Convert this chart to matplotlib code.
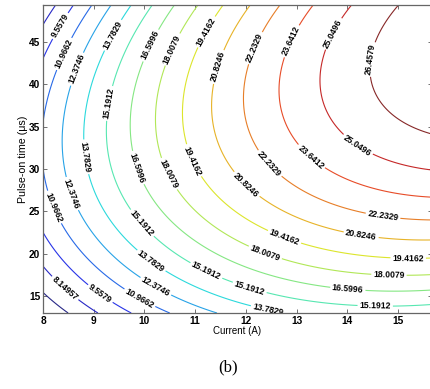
import numpy as np
import matplotlib
matplotlib.use("Agg")
import matplotlib.pyplot as plt

plt.rcParams['font.family'] = ['Liberation Sans', 'DejaVu Sans']
plt.rcParams['font.weight'] = 'bold'

# contour levels printed on the chart
levels = [6.74123, 8.14957, 9.5579, 10.9662, 12.3746, 13.7829, 15.1912, 16.5996,
          18.0079, 19.4162, 20.8246, 22.2329, 23.6412, 25.0496, 26.4579]

edge_level = [6.74123, 8.14957, 8.14957, 9.5579, 9.5579, 10.9662, 10.9662,
              6.74123, 8.14957, 9.5579, 10.9662, 12.3746,
              8.14957, 9.5579, 10.9662, 12.3746, 13.7829, 15.1912, 16.5996,
              18.0079, 19.4162, 20.8246, 22.2329, 23.6412, 25.0496, 26.4579,
              15.1912, 16.5996, 18.0079, 19.4162, 20.8246, 22.2329, 23.6412,
              25.0496, 26.4579,
              26.4579, 25.0496, 23.6412, 22.2329]
edge_current = [8, 8, 8, 8, 8, 8, 8,
                8.53, 9.12, 9.76, 10.50, 11.49,
                8.24, 8.57, 8.97, 9.32, 9.72, 10.15, 10.56,
                11.0, 11.53, 12.04, 12.67, 13.32, 14.05, 14.98,
                15.65, 15.65, 15.65, 15.65, 15.65, 15.65, 15.65,
                15.65, 15.65,
                14.41, 13.48, 12.65, 11.98]
edge_time = [15.47, 18.66, 47.24, 22.56, 43.23, 28.7, 37.2,
             13, 13, 13, 13, 13,
             49.37, 49.37, 49.37, 49.37, 49.37, 49.37, 49.37,
             49.37, 49.37, 49.37, 49.37, 49.37, 49.37, 49.37,
             14.2, 16.0, 17.5, 19.5, 21.6, 24.0, 26.7,
             30.2, 34.0,
             38, 40, 38.9, 36.9]

# where the inline labels sit (also points on the lines)
label_level = [9.5579, 10.9662, 12.3746, 13.7829, 15.1912, 16.5996, 18.0079,
               19.4162, 20.8246, 22.2329, 23.6412, 25.0496, 26.4579,
               13.7829, 12.3746, 10.9662, 16.5996, 18.0079, 19.4162, 20.8246,
               22.2329, 23.6412, 25.0496,
               15.1912, 13.7829, 12.3746, 10.9662, 9.5579, 8.14957,
               16.5996, 15.1912, 13.7829, 18.0079, 19.4162, 20.8246, 22.2329,
               16.5996, 18.0079, 19.4162, 15.1912]
label_current = [8.37, 8.45, 8.67, 9.38, 9.36, 10.19, 10.56,
                 11.25, 11.49, 12.14, 12.97, 13.78, 14.53,
                 8.80, 8.53, 8.18, 9.89, 10.54, 11.0, 12.0,
                 12.44, 13.28, 14.19,
                 9.95, 10.15, 10.21, 9.91, 9.12, 8.43,
                 11.3, 12.08, 12.44, 12.38, 12.75, 14.27, 14.7,
                 14.01, 14.82, 15.2, 14.55]
label_time = [46.8, 43.5, 41.8, 45.8, 37.7, 44.4, 44.1,
              46.1, 42.0, 44.4, 44.9, 45.8, 42.9,
              31.4, 27.0, 25.4, 30.2, 29.6, 31.1, 28.1,
              30.5, 31.4, 32.7,
              23.6, 19.3, 16.0, 14.8, 15.2, 15.9,
              19.0, 16.1, 13.5, 20.1, 21.8, 22.1, 24.3,
              15.8, 17.2, 19.4, 13.7]

# second order response surface through the read points
zz = np.array(edge_level + label_level)
ii = np.array(edge_current + label_current)
tt = np.array(edge_time + label_time)
A = np.column_stack([np.ones_like(ii), ii, tt, ii**2, tt**2, ii * tt])
coef = np.linalg.lstsq(A, zz, rcond=None)[0]

cur = np.linspace(8, 15.67, 300)
ton = np.linspace(13, 49.37, 300)
I, T = np.meshgrid(cur, ton)
Z = (coef[0] + coef[1] * I + coef[2] * T + coef[3] * I**2
     + coef[4] * T**2 + coef[5] * I * T)

# jet, a bit washed out like the scanned figure
jet = plt.get_cmap('jet')
line_colors = [0.75 * np.array(jet(k / (len(levels) - 1))[:3]) + 0.25 * 0.62
               for k in range(len(levels))]

fig = plt.figure(figsize=(4.3, 3.89), dpi=100)
ax = fig.add_axes([43 / 430, 76 / 389, 389 / 430, 308 / 389])

cs = ax.contour(I, T, Z, levels=levels, colors=line_colors, linewidths=0.8)
ax.clabel(cs, fmt=lambda v: '%g' % v, fontsize=6.2, colors='k', inline=True,
          inline_spacing=2, manual=list(zip(label_current, label_time)))

ax.set_xlim(8, 15.67)
ax.set_ylim(13, 49.37)
ax.set_xticks(range(8, 16))
ax.set_yticks(range(15, 50, 5))
ax.tick_params(direction='in', top=True, right=True, length=3, width=0.6,
               labelsize=7.3, pad=2, color='0.35')
for s in ax.spines.values():
    s.set_color('0.4')
    s.set_linewidth(0.9)
ax.set_xlabel('Current (A)', fontsize=7, labelpad=0)
ax.set_ylabel('Pulse-on time (μs)', fontsize=7.7, labelpad=1)

fig.text(228 / 430, 1 - 367 / 389, '(b)', ha='center', va='center',
         family='Liberation Serif', fontsize=12, fontweight='normal')

fig.savefig('out.png', dpi=100)
